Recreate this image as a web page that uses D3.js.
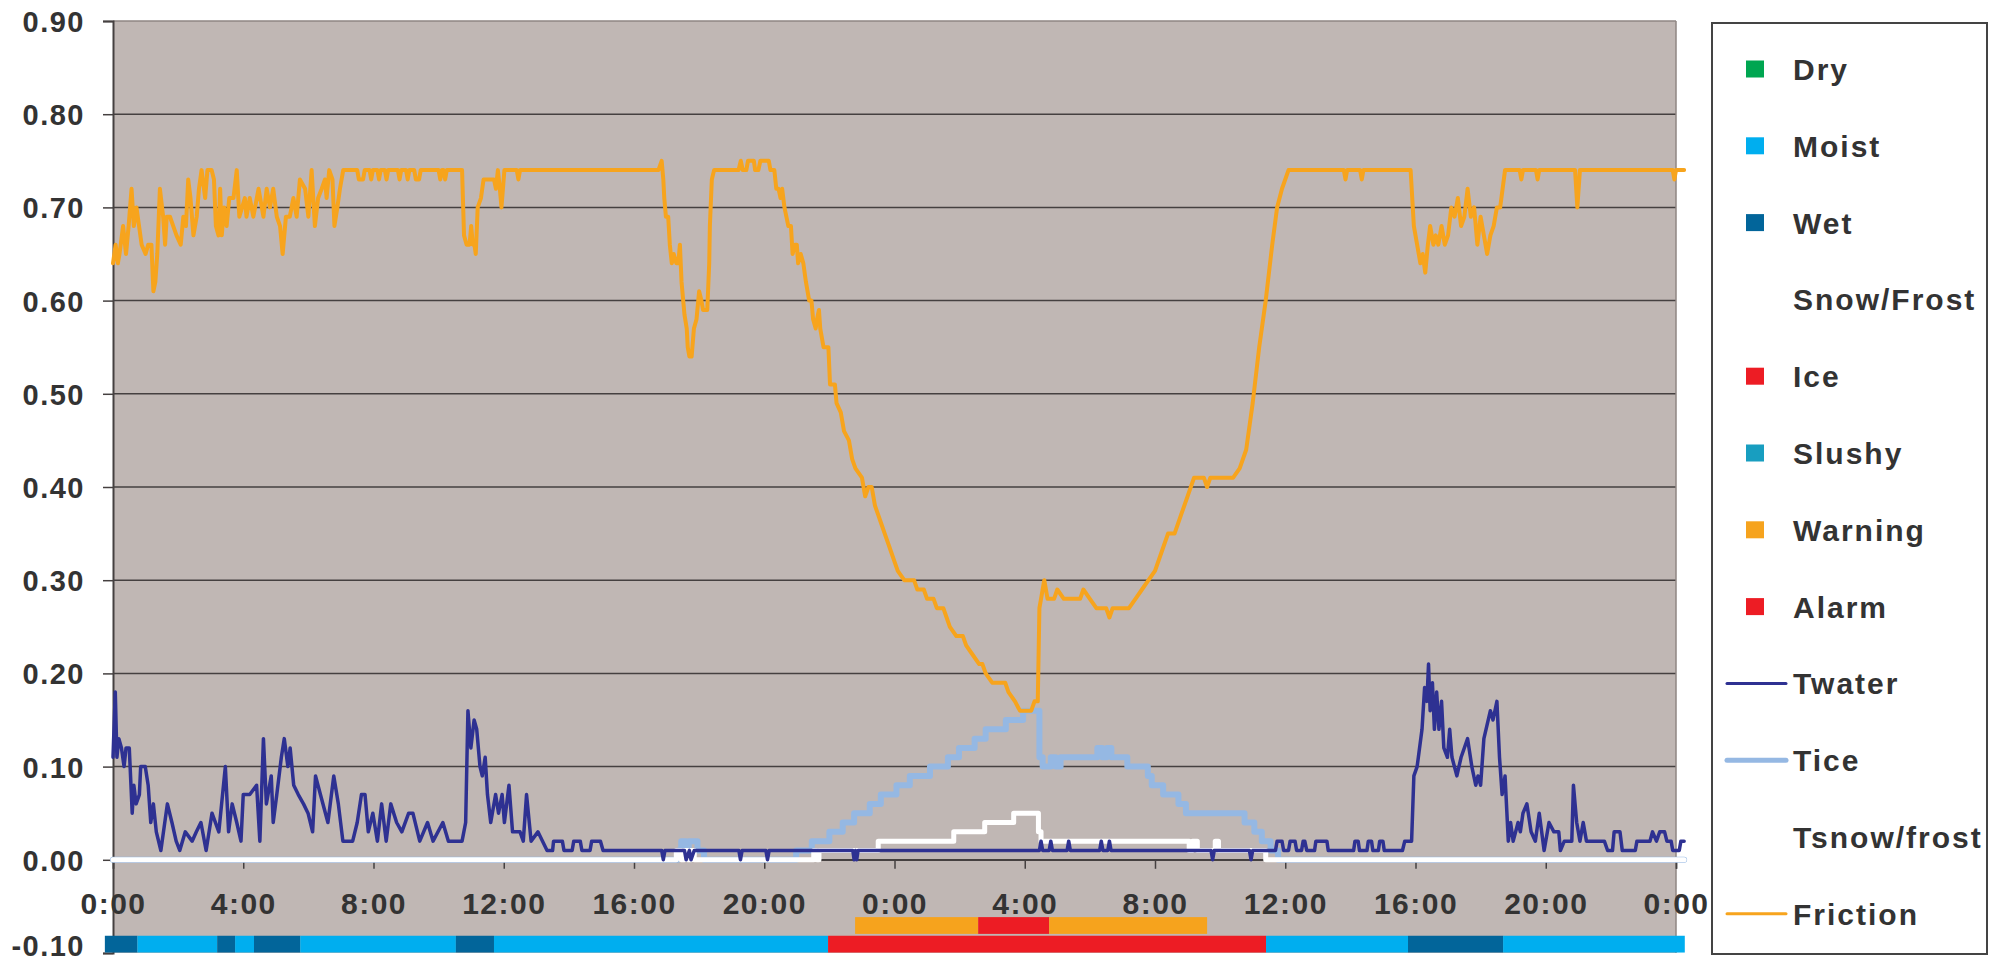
<!DOCTYPE html>
<html><head><meta charset="utf-8">
<script src="https://cdn.jsdelivr.net/npm/d3@7"></script>
<style>
body{margin:0;background:#fff;}
text{font-family:"Liberation Sans",Arial,sans-serif;font-weight:bold;fill:#333;}
</style>
</head><body>
<svg id="chart" width="1999" height="968"></svg>
<script>
// ---------------- DATA ----------------
const yTickValues = [-0.1,0,0.1,0.2,0.3,0.4,0.5,0.6,0.7,0.8,0.9];
const xTickHours = [0,4,8,12,16,20,24,28,32,36,40,44,48];
const xTickLabels = ["0:00","4:00","8:00","12:00","16:00","20:00","0:00","4:00","8:00","12:00","16:00","20:00","0:00"];

// road status periods [category, startHour, endHour]
const statusPeriods = [
  ["Wet",-0.25,0.75],["Moist",0.75,3.2],["Wet",3.2,3.75],["Moist",3.75,4.33],
  ["Wet",4.33,5.75],["Moist",5.75,10.53],["Wet",10.53,11.7],["Moist",11.7,21.96],
  ["Ice",21.96,35.41],["Moist",35.41,39.77],["Wet",39.77,42.69],["Moist",42.69,48.27]
];
// warning / alarm periods
const alertPeriods = [["Warning",22.79,26.57],["Alarm",26.57,28.75],["Warning",28.75,33.6]];

// [hour, value]
const friction = [
[0,0.64],[0.08,0.66],[0.15,0.64],[0.2,0.65],[0.31,0.68],[0.4,0.65],[0.48,0.68],[0.57,0.72],[0.64,0.68],[0.72,0.70],[0.8,0.68],[0.88,0.66],[1.0,0.65],[1.08,0.66],[1.18,0.66],[1.24,0.61],[1.3,0.62],[1.36,0.65],[1.44,0.72],[1.54,0.69],[1.6,0.66],[1.65,0.69],[1.75,0.69],[1.85,0.68],[1.95,0.67],[2.08,0.66],[2.16,0.69],[2.24,0.68],[2.31,0.73],[2.38,0.71],[2.47,0.67],[2.57,0.69],[2.64,0.72],[2.72,0.74],[2.83,0.71],[2.9,0.74],[3.03,0.74],[3.1,0.73],[3.16,0.68],[3.24,0.67],[3.29,0.72],[3.34,0.67],[3.41,0.70],[3.49,0.68],[3.57,0.71],[3.7,0.71],[3.8,0.74],[3.88,0.69],[4.05,0.71],[4.1,0.69],[4.2,0.71],[4.31,0.69],[4.47,0.72],[4.62,0.69],[4.72,0.72],[4.82,0.70],[4.92,0.72],[5.03,0.69],[5.13,0.68],[5.21,0.65],[5.31,0.69],[5.43,0.69],[5.54,0.71],[5.64,0.69],[5.74,0.73],[5.9,0.72],[6.0,0.69],[6.1,0.74],[6.2,0.68],[6.3,0.71],[6.41,0.72],[6.51,0.73],[6.56,0.71],[6.64,0.74],[6.74,0.73],[6.8,0.68],[6.89,0.70],[6.97,0.72],[7.07,0.74],
[7.5,0.74],[7.55,0.73],[7.68,0.73],[7.73,0.74],[7.88,0.74],[7.93,0.73],[7.98,0.74],[8.12,0.74],[8.17,0.73],[8.22,0.74],[8.35,0.74],[8.4,0.73],[8.45,0.74],[8.75,0.74],[8.8,0.73],[8.85,0.74],[9.0,0.74],[9.05,0.73],[9.1,0.74],[9.25,0.74],[9.3,0.73],[9.4,0.73],[9.45,0.74],[10.0,0.74],[10.05,0.73],[10.1,0.74],[10.15,0.74],[10.2,0.73],[10.25,0.74],[10.72,0.74],
[10.78,0.67],[10.86,0.66],[10.95,0.66],[11.0,0.68],[11.05,0.66],[11.1,0.66],[11.14,0.65],[11.2,0.70],[11.3,0.71],[11.38,0.73],[11.7,0.73],[11.76,0.72],[11.82,0.74],[11.88,0.72],[11.93,0.70],[12.02,0.74],[12.4,0.74],[12.45,0.73],[12.5,0.74],
[16.75,0.74],[16.85,0.75],[16.9,0.73],[16.93,0.71],[16.98,0.69],[17.05,0.69],[17.1,0.66],[17.16,0.64],[17.22,0.65],[17.3,0.64],[17.36,0.64],[17.41,0.66],[17.46,0.62],[17.55,0.585],[17.62,0.57],[17.65,0.55],[17.7,0.54],[17.77,0.54],[17.84,0.57],[17.92,0.58],[18.0,0.61],[18.07,0.60],[18.12,0.59],[18.25,0.59],[18.31,0.64],[18.33,0.68],[18.39,0.73],[18.46,0.74],[19.21,0.74],[19.28,0.75],[19.34,0.74],[19.45,0.74],[19.5,0.75],[19.68,0.75],[19.72,0.74],[19.82,0.74],[19.88,0.75],[20.14,0.75],[20.19,0.74],[20.31,0.74],[20.37,0.72],[20.44,0.72],[20.5,0.71],[20.55,0.72],[20.62,0.70],[20.74,0.68],[20.82,0.68],[20.87,0.65],[20.94,0.66],[21.0,0.66],[21.04,0.64],[21.12,0.65],[21.2,0.64],[21.28,0.62],[21.38,0.60],[21.45,0.60],[21.5,0.58],[21.58,0.57],[21.62,0.58],[21.68,0.59],[21.72,0.57],[21.82,0.55],[21.97,0.55],[22.02,0.51],[22.17,0.51],[22.22,0.49],
[22.35,0.48],[22.45,0.46],[22.6,0.45],[22.7,0.43],[22.8,0.42],[23.0,0.41],[23.1,0.39],[23.2,0.40],[23.3,0.40],[23.4,0.38],[23.5,0.37],[23.6,0.36],[23.7,0.35],[23.8,0.34],[23.9,0.33],[24.0,0.32],[24.1,0.31],[24.3,0.30],[24.6,0.30],[24.7,0.29],[24.9,0.29],[25.0,0.28],[25.2,0.28],[25.3,0.27],[25.5,0.27],[25.6,0.26],[25.7,0.25],[25.9,0.24],[26.1,0.24],[26.2,0.23],[26.4,0.22],[26.6,0.21],[26.7,0.21],[26.8,0.20],[27.0,0.19],[27.4,0.19],[27.5,0.18],[27.7,0.17],[27.85,0.16],[28.2,0.16],[28.3,0.17],[28.4,0.17],[28.45,0.27],[28.5,0.28],[28.6,0.30],[28.7,0.28],[28.9,0.28],[29.0,0.29],[29.2,0.28],[29.4,0.28],[29.7,0.28],[29.8,0.29],[30.0,0.28],[30.2,0.27],[30.5,0.27],[30.6,0.26],[30.7,0.27],[31.2,0.27],[31.4,0.28],[31.6,0.29],[31.8,0.30],[32.0,0.31],[32.2,0.33],[32.4,0.35],[32.6,0.35],[32.8,0.37],[33.0,0.39],[33.2,0.41],[33.5,0.41],[33.6,0.40],[33.7,0.41],[34.4,0.41],[34.6,0.42],[34.8,0.44],[35.0,0.49],[35.2,0.55],[35.4,0.60],[35.6,0.66],[35.75,0.70],[35.9,0.72],[36.1,0.74],
[37.8,0.74],[37.85,0.73],[37.9,0.74],[38.3,0.74],[38.35,0.73],[38.4,0.74],[39.85,0.74],[39.95,0.68],[40.05,0.66],[40.15,0.64],[40.22,0.65],[40.3,0.63],[40.38,0.66],[40.45,0.68],[40.55,0.66],[40.62,0.67],[40.7,0.66],[40.8,0.68],[40.9,0.66],[41.0,0.67],[41.1,0.70],[41.2,0.69],[41.3,0.71],[41.4,0.68],[41.5,0.69],[41.6,0.72],[41.7,0.69],[41.8,0.70],[41.9,0.66],[42.0,0.69],[42.1,0.67],[42.2,0.65],[42.3,0.67],[42.4,0.68],[42.5,0.70],[42.6,0.70],[42.75,0.74],[43.2,0.74],[43.25,0.73],[43.3,0.74],[43.7,0.74],[43.75,0.73],[43.8,0.74],[44.9,0.74],[44.97,0.70],[45.05,0.74],[47.9,0.74],[47.95,0.73],[48.0,0.74],[48.25,0.74]
];

const twater = [
[0,0.11],[0.07,0.18],[0.12,0.11],[0.18,0.13],[0.26,0.12],[0.34,0.10],[0.4,0.12],[0.5,0.12],[0.59,0.05],[0.64,0.08],[0.71,0.06],[0.81,0.07],[0.85,0.10],[0.99,0.10],[1.08,0.08],[1.16,0.04],[1.24,0.06],[1.33,0.03],[1.47,0.01],[1.67,0.06],[1.81,0.04],[1.94,0.02],[2.05,0.01],[2.22,0.03],[2.43,0.02],[2.56,0.03],[2.7,0.04],[2.86,0.01],[3.04,0.05],[3.25,0.03],[3.45,0.10],[3.55,0.03],[3.66,0.06],[3.8,0.04],[3.93,0.02],[4.0,0.07],[4.2,0.07],[4.41,0.08],[4.51,0.02],[4.62,0.13],[4.71,0.06],[4.86,0.09],[4.92,0.04],[5.03,0.07],[5.17,0.11],[5.26,0.13],[5.37,0.10],[5.44,0.12],[5.55,0.08],[5.69,0.07],[5.85,0.06],[5.99,0.05],[6.13,0.03],[6.22,0.09],[6.37,0.07],[6.6,0.04],[6.78,0.09],[6.92,0.06],[7.06,0.02],[7.36,0.02],[7.5,0.04],[7.63,0.07],[7.74,0.07],[7.84,0.03],[7.98,0.05],[8.12,0.02],[8.25,0.06],[8.39,0.02],[8.53,0.06],[8.71,0.04],[8.87,0.03],[9.08,0.05],[9.21,0.05],[9.42,0.02],[9.66,0.04],[9.83,0.02],[10.13,0.04],[10.3,0.02],[10.72,0.02],[10.83,0.04],[10.9,0.16],[10.99,0.12],[11.09,0.15],[11.17,0.14],[11.27,0.10],[11.34,0.09],[11.43,0.11],[11.5,0.07],[11.6,0.04],[11.75,0.07],[11.84,0.05],[11.95,0.07],[12.02,0.04],[12.16,0.08],[12.27,0.03],[12.5,0.03],[12.6,0.02],[12.7,0.07],[12.84,0.02],[13.05,0.03],[13.33,0.01],
[13.5,0.01],[13.53,0.02],[13.8,0.02],[13.85,0.01],[14.1,0.01],[14.15,0.02],[14.35,0.02],[14.4,0.01],[14.65,0.01],[14.7,0.02],[14.97,0.02],[15.05,0.01],
[16.85,0.01],[16.9,0.0],[16.95,0.01],[17.55,0.01],[17.6,0.0],[17.7,0.01],[17.75,0.0],[17.85,0.01],[19.22,0.01],[19.27,0.0],[19.32,0.01],[20.05,0.01],[20.1,0.0],[20.15,0.01],[22.72,0.01],[22.76,0.0],[22.8,0.01],[22.84,0.0],[22.88,0.01],[28.45,0.01],[28.5,0.02],[28.55,0.01],[28.75,0.01],[28.8,0.02],[28.85,0.01],[29.3,0.01],[29.35,0.02],[29.4,0.01],[30.3,0.01],[30.35,0.02],[30.4,0.01],[30.55,0.01],[30.6,0.02],[30.65,0.01],[33.72,0.01],[33.77,0.0],[33.82,0.01],[34.9,0.01],[34.95,0.0],[35.0,0.01],[35.7,0.01],
[35.75,0.02],[35.9,0.02],[35.95,0.01],[36.1,0.01],[36.15,0.02],[36.3,0.02],[36.35,0.01],[36.5,0.01],[36.55,0.02],[36.6,0.02],[36.66,0.01],[36.9,0.01],[36.94,0.02],[37.28,0.02],[37.32,0.01],[38.1,0.01],[38.14,0.02],[38.24,0.02],[38.28,0.01],[38.51,0.01],[38.55,0.02],[38.65,0.02],[38.69,0.01],[38.86,0.01],[38.9,0.02],[39.0,0.02],[39.04,0.01],[39.6,0.01],[39.67,0.02],
[39.88,0.02],[39.95,0.09],[40.05,0.10],[40.2,0.14],[40.28,0.185],[40.35,0.17],[40.4,0.21],[40.45,0.16],[40.52,0.19],[40.58,0.14],[40.65,0.18],[40.72,0.14],[40.8,0.17],[40.87,0.12],[40.98,0.11],[41.05,0.14],[41.12,0.11],[41.27,0.09],[41.4,0.11],[41.6,0.13],[41.73,0.10],[41.85,0.08],[41.92,0.09],[42.0,0.08],[42.1,0.13],[42.3,0.16],[42.38,0.15],[42.5,0.17],[42.58,0.11],[42.66,0.07],[42.75,0.09],[42.85,0.02],[42.92,0.04],[43.0,0.02],[43.15,0.04],[43.22,0.03],[43.3,0.05],[43.42,0.06],[43.55,0.03],[43.68,0.02],[43.8,0.05],[43.95,0.01],[44.1,0.04],[44.25,0.03],[44.4,0.03],[44.45,0.01],[44.57,0.02],[44.8,0.02],[44.85,0.08],[44.95,0.04],[45.05,0.02],[45.15,0.04],[45.25,0.02],[45.8,0.02],[45.9,0.01],[46.05,0.01],[46.1,0.03],[46.28,0.03],[46.35,0.01],[46.75,0.01],[46.8,0.02],[47.2,0.02],[47.28,0.03],[47.4,0.02],[47.5,0.03],[47.65,0.03],[47.72,0.02],[47.85,0.02],[47.9,0.01],[48.1,0.01],[48.15,0.02],[48.25,0.02]
];

// step series: value holds from this hour until the next entry
const tice = [
[0,0],[17.35,0.01],[17.45,0.02],[17.6,0.01],[17.68,0.02],[17.95,0.01],[18.15,0],[20.98,0.01],[21.46,0.02],[22.0,0.03],[22.41,0.04],[22.76,0.05],[23.24,0.06],[23.58,0.07],[24.06,0.08],[24.47,0.09],[25.09,0.10],[25.64,0.11],[25.98,0.12],[26.46,0.13],[26.80,0.14],[27.42,0.15],[27.95,0.16],[28.45,0.11],[28.55,0.10],[28.8,0.11],[28.95,0.10],[29.1,0.11],[30.23,0.12],[30.38,0.11],[30.52,0.12],[30.66,0.11],[31.15,0.10],[31.78,0.09],[31.9,0.08],[32.25,0.07],[32.72,0.06],[32.95,0.05],[34.75,0.04],[35.05,0.03],[35.28,0.02],[35.55,0.01],[35.78,0],[48.25,0]
];
const tsnow = [
[0,0],[17.3,0.01],[17.45,0],[17.55,0.01],[17.65,0],[17.75,0.01],[17.85,0],[21.52,0.01],[21.62,0],[21.68,0.01],[23.5,0.02],[25.82,0.03],[26.77,0.04],[27.66,0.05],[28.42,0.03],[28.5,0.02],[33.05,0.01],[33.15,0.02],[33.3,0.01],[33.85,0.02],[33.95,0.01],[35.4,0],[48.25,0]
];

const legendNames = ["Dry","Moist","Wet","Snow/Frost","Ice","Slushy","Warning","Alarm","Twater","Tice","Tsnow/frost","Friction"];

// ---------------- STYLE ----------------
const colors = {
  "Dry":"#00A651","Moist":"#00AEEF","Wet":"#02659A","Snow/Frost":"#FFFFFF","Ice":"#ED1C24",
  "Slushy":"#189EC0","Warning":"#F6A31D","Alarm":"#ED1C24",
  "Twater":"#2E3192","Tice":"#95B8E3","Tsnow/frost":"#FFFFFF","Friction":"#F7A41D"
};
const lineWidths = {"Twater":3.5,"Tice":6,"Tsnow/frost":5,"Friction":4};
const legendLineWidths = {"Twater":3,"Tice":5,"Tsnow/frost":3,"Friction":3};

const svg = d3.select("#chart");
const L = 113, R = 1676, T = 21, B = 953;
const x = d3.scaleLinear().domain([0,48]).range([L,R]);
const y = d3.scaleLinear().domain([-0.1,0.9]).range([B,T]);

// plot background
svg.append("rect").attr("x",L).attr("y",T).attr("width",R-L).attr("height",B-T).attr("fill","#C0B7B4");

// gridlines
svg.append("g").selectAll("line").data(yTickValues.filter(v=>v>-0.05 && v<0.85)).join("line")
  .attr("x1",L).attr("x2",R).attr("y1",d=>y(d)).attr("y2",d=>y(d))
  .attr("stroke","#454040").attr("stroke-width",1.5);
svg.append("line").attr("x1",L).attr("x2",R).attr("y1",y(0.9)).attr("y2",y(0.9)).attr("stroke","#8f8683").attr("stroke-width",1.5);
svg.append("line").attr("x1",R).attr("x2",R).attr("y1",T).attr("y2",B).attr("stroke","#8f8683").attr("stroke-width",1.5);

// y axis
const fmt = d3.format(".2f");
const yAxis = d3.axisLeft(y).tickValues(yTickValues).tickSize(10).tickFormat(d=>fmt(d).replace("\u2212","-"));
const gy = svg.append("g").attr("transform",`translate(${L},0)`).call(yAxis);
gy.select(".domain").attr("stroke","#454040").attr("stroke-width",2);
gy.selectAll(".tick line").attr("stroke","#454040").attr("stroke-width",1.5);
gy.selectAll(".tick text").attr("x",-28).attr("dy",d=>d<-0.05?"0.1em":"0.36em").style("font-size","29px").style("letter-spacing","1.5px")
  .style("font-family","'Liberation Sans',Arial,sans-serif").style("font-weight","bold").attr("fill","#333");

// x axis at y=0
const xAxis = d3.axisBottom(x).tickValues(xTickHours).tickSize(9).tickFormat((d,i)=>xTickLabels[i]);
const gx = svg.append("g").attr("transform",`translate(0,${y(0)})`).call(xAxis);
gx.select(".domain").attr("stroke","#454040").attr("stroke-width",1.5);
gx.selectAll(".tick line").attr("stroke","#454040").attr("stroke-width",1.5);
gx.selectAll(".tick text").attr("y",54).attr("dy",0).style("font-size","30px").style("letter-spacing","1.5px")
  .style("font-family","'Liberation Sans',Arial,sans-serif").style("font-weight","bold").attr("fill","#333");

// status bars
const statusTop = y(-0.0815), statusBot = y(-0.0995);
svg.append("g").selectAll("rect").data(statusPeriods).join("rect")
  .attr("x",d=>x(d[1])).attr("width",d=>x(d[2])-x(d[1]))
  .attr("y",statusTop).attr("height",statusBot-statusTop).attr("fill",d=>colors[d[0]]);
const alertTop = y(-0.0615), alertBot = y(-0.0795);
svg.append("g").selectAll("rect").data(alertPeriods).join("rect")
  .attr("x",d=>x(d[1])).attr("width",d=>x(d[2])-x(d[1]))
  .attr("y",alertTop).attr("height",alertBot-alertTop).attr("fill",d=>colors[d[0]]);

// lines
const linear = d3.line().x(d=>x(d[0])).y(d=>y(d[1]));
const stepped = d3.line().x(d=>x(d[0])).y(d=>y(d[1])).curve(d3.curveStepAfter);
function drawLine(data, gen, name){
  svg.append("path").datum(data).attr("d",gen).attr("fill","none")
    .attr("stroke",colors[name]).attr("stroke-width",lineWidths[name])
    .attr("stroke-linejoin","round").attr("stroke-linecap","round");
}
drawLine(tice, stepped, "Tice");
drawLine(tsnow, stepped, "Tsnow/frost");
drawLine(twater, linear, "Twater");
drawLine(friction, linear, "Friction");

// legend
svg.append("rect").attr("x",1712).attr("y",23).attr("width",275).attr("height",931)
  .attr("fill","#fff").attr("stroke","#444").attr("stroke-width",2);
const lg = svg.append("g").selectAll("g").data(legendNames).join("g")
  .attr("transform",(d,i)=>`translate(0,${69 + i*76.8})`);
lg.each(function(d,i){
  const g = d3.select(this);
  if(i < 8){
    g.append("rect").attr("x",1746).attr("y",-8.5).attr("width",18).attr("height",17).attr("fill",colors[d]);
  } else {
    g.append("line").attr("x1",1727).attr("x2",1786).attr("y1",0).attr("y2",0)
      .attr("stroke",colors[d]).attr("stroke-width",legendLineWidths[d]).attr("stroke-linecap","round");
  }
  g.append("text").attr("x",1793).attr("y",11).style("font-size","30px").style("letter-spacing","2px").text(d);
});
</script>
</body></html>
